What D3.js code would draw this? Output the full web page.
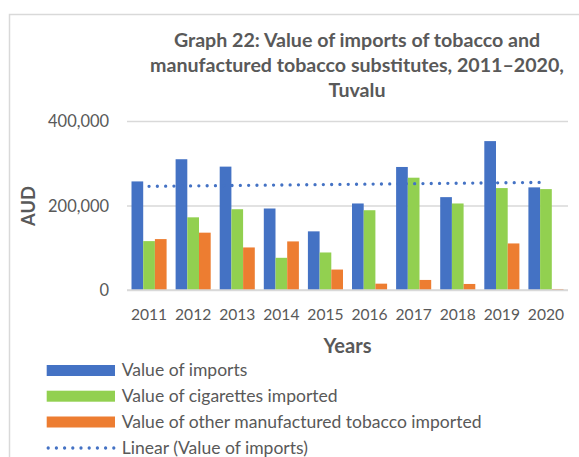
<!DOCTYPE html>
<html><head><meta charset="utf-8">
<script src="https://cdn.jsdelivr.net/npm/d3@7"></script>
<style>
body{margin:0;background:#fff}
svg{display:block}
text{font-family:Lato,"Open Sans",sans-serif;fill:#595959}
</style>
</head><body>
<svg id="c" width="579" height="457"></svg>
<script>
// ---- data ----
const years = ["2011","2012","2013","2014","2015","2016","2017","2018","2019","2020"];
const imports = [257000, 309500, 292000, 192900, 138800, 204800, 291200, 219800, 352400, 242900];
const cigarettes = [115700, 172000, 191200, 76200, 88800, 188800, 265800, 204800, 241200, 238800];
const otherTobacco = [120500, 135700, 100700, 115000, 48400, 15000, 23800, 14300, 110200, 2400];
const yTicks = [0, 200000, 400000];
const seriesNames = ["Value of imports", "Value of cigarettes imported", "Value of other manufactured tobacco imported"];
const trendName = "Linear (Value of imports)";
const titleLines = ["Graph 22: Value of imports of tobacco and", "manufactured tobacco substitutes, 2011\u20132020,", "Tuvalu"];
const yTitle = "AUD";
const xTitle = "Years";

// ---- styles ----
const colors = ["#4472C4", "#92D050", "#ED7D31"];
const svg = d3.select("#c");

function fitSize(str, weight, target){
  const t = svg.append("text").attr("font-size",100).attr("font-weight",weight).text(str);
  const w = t.node().getComputedTextLength();
  t.remove();
  return 100*target/w;
}

// frame
svg.append("rect").attr("x",9.5).attr("y",14.5).attr("width",600).attr("height",500)
  .attr("fill","#fff").attr("stroke","#d9d9d9").attr("stroke-width",1.5);

// scales
const plotL = 127, plotR = 568, plotT = 121, plotB = 290;
const x0 = d3.scaleBand().domain(years).range([plotL, plotR]).paddingInner(0).paddingOuter(0);
const x1 = d3.scaleBand().domain([0,1,2]).range([0, x0.bandwidth()]).paddingInner(0).paddingOuter(0.385);
const y = d3.scaleLinear().domain([0, 400000]).range([plotB, plotT]);

// gridlines
const yAxis = d3.axisLeft(y).tickValues(yTicks).tickSize(-(plotR-plotL)).tickFormat(d3.format(","));
const gy = svg.append("g").attr("transform",`translate(${plotL},0)`).call(yAxis);
gy.select(".domain").remove();
gy.selectAll(".tick line").attr("stroke","#d9d9d9").attr("stroke-width",1.3);
const ytSize = fitSize("400,000", 400, 61);
gy.selectAll(".tick text").attr("x",-18).attr("dy","0.35em")
  .attr("font-size",ytSize).attr("font-family","Lato").attr("fill","#595959");

// bars
const series = [imports, cigarettes, otherTobacco];
series.forEach((vals, si) => {
  svg.append("g").selectAll("rect").data(vals).join("rect")
    .attr("x",(d,i)=>x0(years[i]) + x1(si))
    .attr("width",x1.bandwidth())
    .attr("y",d=>y(d))
    .attr("height",d=>y(0)-y(d))
    .attr("fill",colors[si]);
});

// zero line on top
svg.append("line").attr("x1",plotL).attr("x2",plotR).attr("y1",y(0)).attr("y2",y(0))
  .attr("stroke","#d9d9d9").attr("stroke-width",1.5);

// linear trend of imports
const n = imports.length;
const mx = d3.mean(d3.range(n)), my = d3.mean(imports);
const slope = d3.sum(d3.range(n), i => (i-mx)*(imports[i]-my)) / d3.sum(d3.range(n), i => (i-mx)*(i-mx));
const icpt = my - slope*mx;
const trend = d3.range(n).map(i => icpt + slope*i);
svg.append("path")
  .attr("d", d3.line().x((d,i)=>x0(years[i])+x0.bandwidth()/2).y(d=>y(d))(trend))
  .attr("fill","none").attr("stroke","#4472C4").attr("stroke-width",3.3)
  .attr("stroke-linecap","round").attr("stroke-dasharray","0 8.3");

// x labels
const xtSize = 15.6;
svg.append("g").selectAll("text").data(years).join("text")
  .attr("x",d=>x0(d)+x0.bandwidth()/2).attr("y",319.5)
  .attr("text-anchor","middle").attr("font-size",xtSize).text(d=>d);

// axis titles
const yrSize = fitSize(xTitle, 700, 48);
svg.append("text").attr("x",347.5).attr("y",352.7).attr("text-anchor","middle")
  .attr("font-weight",700).attr("font-size",yrSize).text(xTitle);
const audSize = fitSize(yTitle, 700, 40);
svg.append("text").attr("transform","translate(34.5,206) rotate(-90)").attr("text-anchor","middle")
  .attr("font-weight",700).attr("font-size",audSize).text(yTitle);

// title
const tSize = fitSize(titleLines[1], 700, 414);
svg.append("g").selectAll("text").data(titleLines).join("text")
  .attr("x",357).attr("y",(d,i)=>46.7 + i*25)
  .attr("text-anchor","middle").attr("font-weight",700).attr("font-size",tSize).text(d=>d);

// legend
const lgSize = fitSize(seriesNames[2], 400, 360);
const rowY = [370.5, 396.2, 422.0, 448.0];
const lg = svg.append("g");
seriesNames.forEach((nm, i) => {
  lg.append("rect").attr("x",46.7).attr("y",rowY[i]-5.5).attr("width",68.3).attr("height",11).attr("fill",colors[i]);
  lg.append("text").attr("x",121.7).attr("y",rowY[i]+5.5).attr("font-size",lgSize).text(nm);
});
lg.append("line").attr("x1",48.2).attr("x2",114).attr("y1",rowY[3]).attr("y2",rowY[3])
  .attr("stroke","#4472C4").attr("stroke-width",3.3).attr("stroke-linecap","round").attr("stroke-dasharray","0 8.2");
lg.append("text").attr("x",121.7).attr("y",rowY[3]+5.5).attr("font-size",lgSize).text(trendName);
</script>
</body></html>
